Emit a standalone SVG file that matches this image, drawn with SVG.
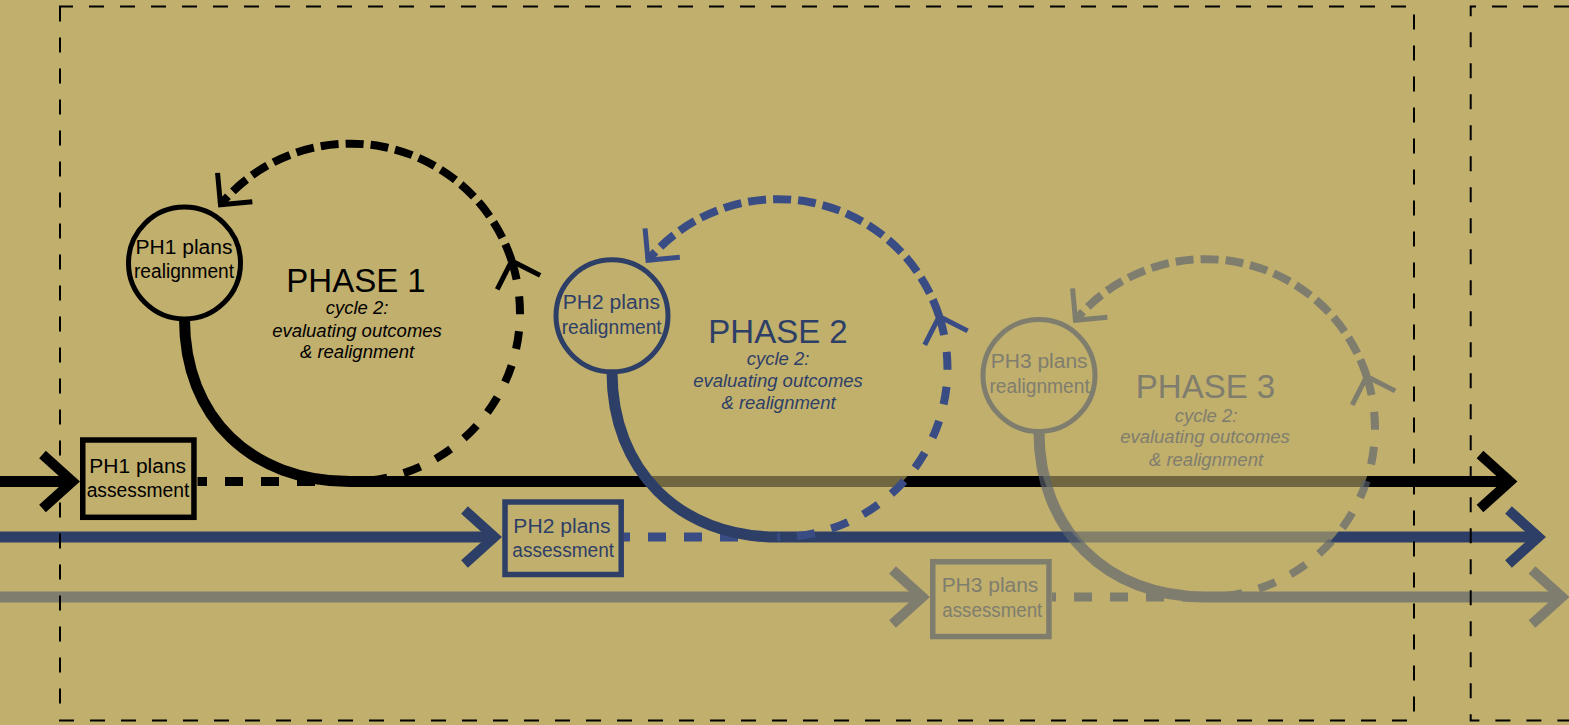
<svg xmlns="http://www.w3.org/2000/svg" width="1569" height="725" viewBox="0 0 1569 725">
<defs>
<style>
.ov{fill:#C1AF6D;fill-opacity:.58}
.line{fill:none;stroke-width:11}
.conn{fill:none;stroke-width:9;stroke-dasharray:18 18}
.arcL{fill:none;stroke-width:8;stroke-dasharray:18 17;stroke-dashoffset:15.4}
.arcU{fill:none;stroke-width:8;stroke-dasharray:18 7}
.box{fill:none;stroke-width:5.5}
.node{fill:none;stroke-width:5}
.lbl{font-family:"Liberation Sans",Arial,sans-serif;font-size:19.5px;text-anchor:middle}
.ph{font-family:"Liberation Sans",Arial,sans-serif;font-size:33px;text-anchor:middle}
.sub{font-family:"Liberation Sans",Arial,sans-serif;font-size:18.5px;font-style:italic;text-anchor:middle}
.frame{fill:none;stroke:#000;stroke-width:2;stroke-dasharray:15 16}
.k{stroke:#000}.kf{fill:#000}
.b{stroke:#2E3F67}.bf{fill:#2E3F67}.b2{stroke:#3A4C84}
.g{stroke:#5C6470}.gf{fill:#5C6470}
</style>
<marker id="ak" markerUnits="userSpaceOnUse" orient="auto" overflow="visible" markerWidth="10" markerHeight="10" refX="0" refY="0"><path d="M-30,-27 L0,0 L-30,27" fill="none" stroke="#000" stroke-width="10"/></marker>
<marker id="ab" markerUnits="userSpaceOnUse" orient="auto" overflow="visible" markerWidth="10" markerHeight="10" refX="0" refY="0"><path d="M-30,-27 L0,0 L-30,27" fill="none" stroke="#2E3F67" stroke-width="10"/></marker>
<marker id="ag" markerUnits="userSpaceOnUse" orient="auto" overflow="visible" markerWidth="10" markerHeight="10" refX="0" refY="0"><path d="M-30,-27 L0,0 L-30,27" fill="none" stroke="#5C6470" stroke-width="10"/></marker>
<marker id="sk" markerUnits="userSpaceOnUse" orient="auto" overflow="visible" markerWidth="10" markerHeight="10" refX="0" refY="0"><path d="M-22.6,-22.6 L0,0 L-22.6,22.6" fill="none" stroke="#000" stroke-width="5"/></marker>
<marker id="sb" markerUnits="userSpaceOnUse" orient="auto" overflow="visible" markerWidth="10" markerHeight="10" refX="0" refY="0"><path d="M-22.6,-22.6 L0,0 L-22.6,22.6" fill="none" stroke="#3A4C84" stroke-width="5"/></marker>
<marker id="sg" markerUnits="userSpaceOnUse" orient="auto" overflow="visible" markerWidth="10" markerHeight="10" refX="0" refY="0"><path d="M-22.6,-22.6 L0,0 L-22.6,22.6" fill="none" stroke="#5C6470" stroke-width="5"/></marker>
</defs>
<rect width="1569" height="725" fill="#C1AF6D"/>

<g id="phase1">
  <g id="connectors-ph1">
    <path class="line k" d="M0,481.5 H72.5" marker-end="url(#ak)"/>
    <path class="conn k" d="M197.5,481.5 H350" style="stroke-dashoffset:8.5"/>
    <path class="line k" d="M184.5,319 C184.5,418 252,481.5 350,481.5 H1510" marker-end="url(#ak)"/>
    <path class="arcL k" d="M350,481.5 A169,168.5 0 0 0 511.7,260.9" marker-end="url(#sk)"/>
    <path class="arcU k" d="M511.7,260.9 A169,168.5 0 0 0 220.5,204.7" marker-end="url(#sk)"/>
  </g>
  <g id="ph1-realignment">
    <circle class="node k" cx="184.5" cy="263" r="56"/>
    <text class="lbl kf" x="184" y="254" textLength="97" lengthAdjust="spacingAndGlyphs">PH1 plans</text>
    <text class="lbl kf" x="184" y="278" textLength="100" lengthAdjust="spacingAndGlyphs">realignment</text>
  </g>
  <g id="ph1-assessment">
    <rect class="box k" x="82.75" y="440" width="111.2" height="77.3"/>
    <text class="lbl kf" x="137.7" y="473.3" textLength="96.7" lengthAdjust="spacingAndGlyphs">PH1 plans</text>
    <text class="lbl kf" x="138" y="497.3" textLength="102.7" lengthAdjust="spacingAndGlyphs">assessment</text>
  </g>
  <g id="ph1-label">
    <text class="ph kf" x="356" y="292">PHASE 1</text>
    <text class="sub kf" x="357" y="314">cycle 2:</text>
    <text class="sub kf" x="357" y="337">evaluating outcomes</text>
    <text class="sub kf" x="357" y="358">&amp; realignment</text>
  </g>
</g>

<g id="phase2">
  <ellipse class="ov" cx="777.5" cy="368.5" rx="169" ry="168.5"/>
  <g id="connectors-ph2">
    <path class="line b" d="M0,537 H494.5" marker-end="url(#ab)"/>
    <path class="conn b2" d="M624,537 H777.5" style="stroke-dashoffset:12"/>
    <path class="line b" d="M612,371.8 C612,470.5 679.5,537 777.5,537 H1538.5" marker-end="url(#ab)"/>
    <path class="arcL b2" d="M777.5,537 A169,168.5 0 0 0 939.2,316.4" marker-end="url(#sb)"/>
    <path class="arcU b2" d="M939.2,316.4 A169,168.5 0 0 0 648,260.2" marker-end="url(#sb)"/>
  </g>
  <g id="ph2-realignment">
    <circle class="node b" cx="612" cy="315.8" r="56"/>
    <text class="lbl bf" x="611.3" y="309.3" textLength="97.3" lengthAdjust="spacingAndGlyphs">PH2 plans</text>
    <text class="lbl bf" x="611.7" y="334.3" textLength="100" lengthAdjust="spacingAndGlyphs">realignment</text>
  </g>
  <g id="ph2-assessment">
    <rect class="box b" x="505" y="502" width="116.2" height="72.5"/>
    <text class="lbl bf" x="562" y="532.7" textLength="97.3" lengthAdjust="spacingAndGlyphs">PH2 plans</text>
    <text class="lbl bf" x="563.2" y="556.7" textLength="101.7" lengthAdjust="spacingAndGlyphs">assessment</text>
  </g>
  <g id="ph2-label">
    <text class="ph bf" x="778" y="342.5">PHASE 2</text>
    <text class="sub bf" x="778" y="365">cycle 2:</text>
    <text class="sub bf" x="778" y="387">evaluating outcomes</text>
    <text class="sub bf" x="778.5" y="409">&amp; realignment</text>
  </g>
</g>

<g id="phase3">
  <ellipse class="ov" cx="1205" cy="428.5" rx="169" ry="168.5"/>
  <g opacity="0.65">
    <g id="connectors-ph3">
      <path class="line g" d="M0,597 H922.5" marker-end="url(#ag)"/>
      <path class="conn g" d="M1052,597 H1205" style="stroke-dashoffset:14"/>
      <path class="line g" d="M1039,431.5 C1039,530 1106.5,597 1205,597 H1562" marker-end="url(#ag)"/>
      <path class="arcL g" d="M1205,597 A169,168.5 0 0 0 1366.7,376.4" marker-end="url(#sg)"/>
      <path class="arcU g" d="M1366.7,376.4 A169,168.5 0 0 0 1075.5,320.2" marker-end="url(#sg)"/>
    </g>
    <g id="ph3-realignment">
      <circle class="node g" cx="1039" cy="375.5" r="56"/>
      <text class="lbl gf" x="1039.2" y="368" textLength="96.8" lengthAdjust="spacingAndGlyphs">PH3 plans</text>
      <text class="lbl gf" x="1039.6" y="393" textLength="100.3" lengthAdjust="spacingAndGlyphs">realignment</text>
    </g>
    <g id="ph3-assessment">
      <rect class="box g" x="932.75" y="561.75" width="116.2" height="74.8"/>
      <text class="lbl gf" x="990" y="592.3" textLength="96.7" lengthAdjust="spacingAndGlyphs">PH3 plans</text>
      <text class="lbl gf" x="992.3" y="616.7" textLength="100" lengthAdjust="spacingAndGlyphs">assessment</text>
    </g>
    <g id="ph3-label">
      <text class="ph gf" x="1205.5" y="398">PHASE 3</text>
      <text class="sub gf" x="1206" y="421.5">cycle 2:</text>
      <text class="sub gf" x="1205" y="443">evaluating outcomes</text>
      <text class="sub gf" x="1206" y="466">&amp; realignment</text>
    </g>
  </g>
</g>

<g id="frames">
  <path class="frame" d="M60,6.5 V720.5 H1414 V6.5 Z"/>
  <path class="frame" d="M1569,6.5 H1470.7 V720.5 H1569"/>
</g>
</svg>
